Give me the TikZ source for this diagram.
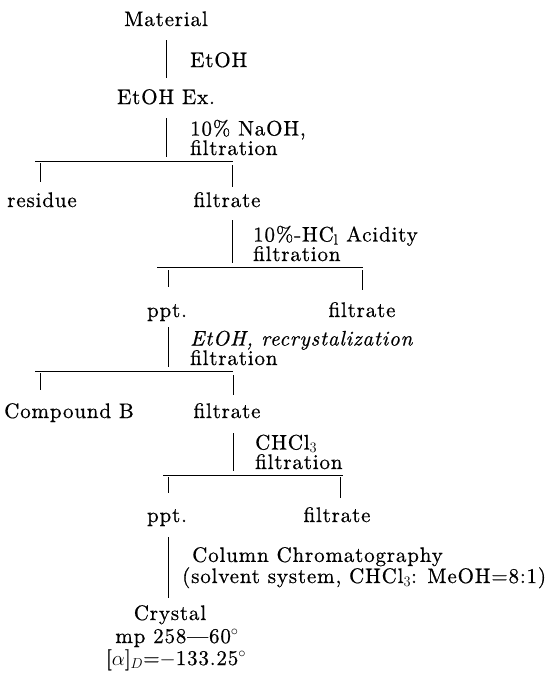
\documentclass[tikz,border=0pt]{standalone}
\usepackage{fontspec}
\setmainfont{lmroman10-regular.otf}[ItalicFont=lmroman10-italic.otf,BoldFont=lmroman10-bold.otf,LetterSpace=4,FakeBold=0.6]
\newcommand{\chemfont}{\fontsize{21}{19.5}\selectfont}
\tikzset{
  txt/.style={anchor=base,inner sep=1pt,text height=13pt,text depth=4pt,font=\chemfont},
  lbl/.style={anchor=base west,align=left,inner sep=0pt,font=\chemfont},
  flow/.style={line width=0.9pt},
}
\begin{document}
\begin{tikzpicture}[x=1pt,y=-1pt]
	\useasboundingbox (0,0) rectangle (554,683);

	% Node
	\node[txt] (mat) at (166,26) {Material};
	\node[txt] (ex) at (166,104) {EtOH Ex.};
	\node[txt] (res) at (42,207) {residue};
	\node[txt] (f1) at (227,207) {filtrate};
	\node[txt] (p1) at (167,317) {ppt.};
	\node[txt] (f2) at (362,317) {filtrate};
	\node[txt] (cb) at (69,418) {Compound B};
	\node[txt] (f3) at (227,418) {filtrate};
	\node[txt] (p2) at (167,522) {ppt.};
	\node[txt] (f4) at (337,522) {filtrate};
	\node[txt] (cr) at (170,620) {Crystal};
	\node[txt] (mp) at (177,643) {mp 258---60$^\circ$};
	\node[txt] (rot) at (176,665) {[$\alpha$]$_D$=$-$133.25$^\circ$};

	%Label
	\node[lbl] (l1) at (190,67) {EtOH};
	\node[lbl] (l2) at (190,155) {10\% NaOH,\\filtration};
	\node[lbl] (l3) at (253,261) {10\%-HC$_{\mathrm{l}}$ Acidity\\filtration};
	\node[lbl] (l4) at (190,365) {\textit{EtOH, recrystalization}\\filtration};
	\node[lbl] (l5) at (255,469) {CHCl$_3$\\filtration};
	\node[lbl] (l6) at (192,583) {Column Chromatography\\\hspace*{-10pt}(solvent system, CHCl$_3$: MeOH=8:1)};

	%split
	\coordinate (b1l) at (35,161);  \coordinate (b1r) at (233,161);
	\coordinate (b2l) at (157,267); \coordinate (b2r) at (363,267);
	\coordinate (b3l) at (35,371);  \coordinate (b3r) at (233,371);
	\coordinate (b4l) at (163,475); \coordinate (b4r) at (343,475);
	\coordinate (d1l) at (40,161);  \coordinate (d1r) at (232,161);
	\coordinate (d2l) at (168,267); \coordinate (d2r) at (362,267);
	\coordinate (d3l) at (40,371);  \coordinate (d3r) at (233,371);
	\coordinate (d4l) at (168,475); \coordinate (d4r) at (340,475);

	%link
	\draw[flow,shorten <=9pt,shorten >=12pt] (mat.south) -- (ex.north);
	\draw[flow,shorten <=9pt,shorten >=4pt] (ex.south) -- (ex |- b1l);
	\draw[flow] (b1l) -- (b1r);
	\draw[flow,shorten <=2pt,shorten >=11pt] (d1l) -- (d1l |- res.north);
	\draw[flow,shorten <=4pt,shorten >=6pt] (d1r) -- (d1r |- f1.north);

	\draw[flow,shorten <=8pt,shorten >=4pt] (d1r |- f1.south) -- (d1r |- b2l);
	\draw[flow] (b2l) -- (b2r);
	\draw[flow,shorten <=3pt,shorten >=16pt] (d2l) -- (d2l |- p1.north);
	\draw[flow,shorten <=3pt,shorten >=13pt] (d2r) -- (d2r |- f2.north);

	\draw[flow,shorten <=5pt,shorten >=4pt] (d2l |- p1.south) -- (d2l |- b3l);
	\draw[flow] (b3l) -- (b3r);
	\draw[flow,shorten <=2pt,shorten >=14pt] (d3l) -- (d3l |- cb.north);
	\draw[flow,shorten <=4pt,shorten >=9pt] (d3r) -- (d3r |- f3.north);

	\draw[flow,shorten <=10pt,shorten >=4pt] (d3r |- f3.south) -- (d3r |- b4l);
	\draw[flow] (b4l) -- (b4r);
	\draw[flow,shorten <=2pt,shorten >=15pt] (d4l) -- (d4l |- p2.north);
	\draw[flow,shorten <=2pt,shorten >=10pt] (d4r) -- (d4r |- f4.north);

	\draw[flow,shorten <=10pt,shorten >=8pt] (d4l |- p2.south) -- (d4l |- cr.north);

\end{tikzpicture}
\end{document}
